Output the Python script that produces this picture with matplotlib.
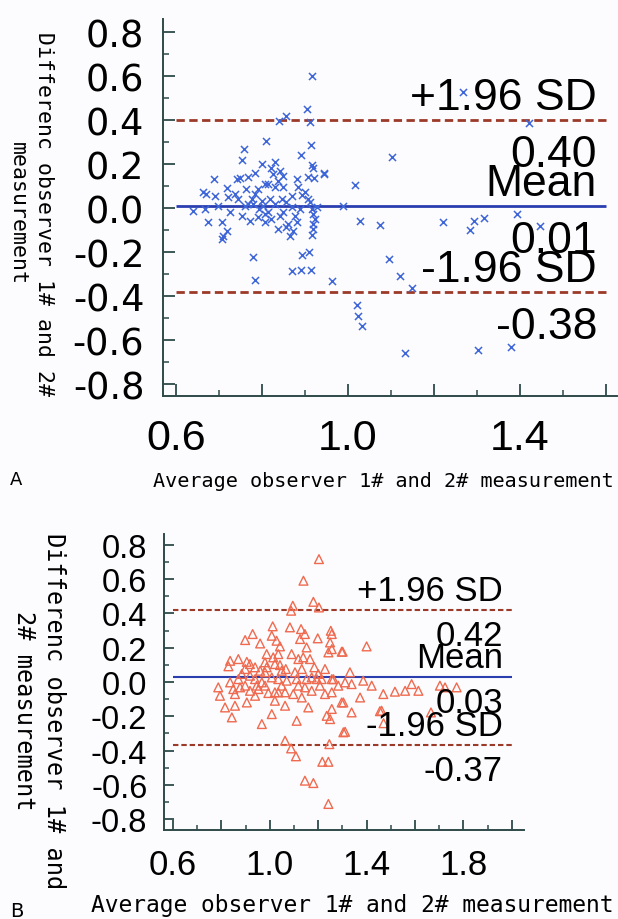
import matplotlib.pyplot as plt
from matplotlib.ticker import MultipleLocator

plt.rcParams['axes.unicode_minus'] = False

# panel A: average vs difference of observer 1# and 2#
a_avg = [0.904, 0.857, 0.840, 0.912, 0.809, 0.913, 0.758, 0.754, 0.891, 0.945,
         0.799, 0.830, 0.916, 0.919, 0.689, 0.741, 0.768, 0.784, 0.822, 0.842,
         0.881, 0.908, 0.922, 0.671, 0.691, 0.718, 0.722, 0.745, 0.764, 0.784,
         0.807, 0.830, 0.850, 0.884, 0.869, 0.892, 0.640, 0.667, 0.698, 0.674,
         0.706, 0.726, 0.753, 0.772, 0.710, 0.718, 0.780, 0.792, 0.803, 0.815,
         0.830, 0.822, 0.842, 0.850, 0.807, 0.838, 0.857, 0.865, 0.873, 0.877,
         0.857, 0.869, 0.888, 0.912, 0.916, 0.919, 0.923, 0.919, 0.919, 0.916,
         0.927, 0.780, 0.785, 0.892, 0.910, 0.871, 0.891, 0.914, 0.962, 0.749,
         0.760, 0.776, 0.799, 0.819, 0.846, 0.737, 0.881, 0.861, 0.791, 0.807,
         0.826, 0.815, 0.791, 0.850, 0.838, 0.900, 0.908, 0.768, 0.663, 0.707,
         0.916, 1.267, 1.422, 1.102, 0.944, 1.016, 0.989, 1.028, 1.074, 1.220,
         1.284, 1.294, 1.317, 1.392, 1.447, 1.096, 1.121, 1.150, 1.020, 1.024,
         1.032, 1.133, 1.303, 1.378]
a_diff = [0.45, 0.42, 0.397, 0.39, 0.305, 0.286, 0.27, 0.22, 0.24, 0.155,
          0.20, 0.21, 0.195, 0.18, 0.13, 0.13, 0.14, 0.16, 0.18, 0.17,
          0.13, 0.14, 0.135, 0.064, 0.056, 0.09, 0.049, 0.041, 0.086, 0.064,
          0.109, 0.094, 0.094, 0.094, 0.056, 0.059, -0.012, -0.005, 0.008, -0.065,
          -0.062, -0.02, -0.038, -0.058, -0.126, -0.103, 0.018, -0.005, 0.01, -0.02,
          0.018, -0.05, -0.035, -0.02, -0.065, -0.095, -0.088, -0.126, -0.103, -0.035,
          0.026, 0.003, -0.005, 0.026, -0.005, -0.027, -0.05, -0.073, -0.095, -0.123,
          0.003, -0.224, -0.326, -0.212, -0.199, -0.285, -0.28, -0.28, -0.33, 0.135,
          0.01, 0.041, 0.033, 0.041, 0.041, 0.064, -0.065, -0.073, -0.042, -0.027,
          0.155, 0.109, 0.086, 0.147, 0.124, 0.071, 0.041, 0.018, 0.073, -0.14,
          0.60, 0.526, 0.386, 0.233, 0.158, 0.105, 0.01, -0.06, -0.076, -0.065,
          -0.099, -0.06, -0.047, -0.027, -0.083, -0.232, -0.308, -0.365, -0.44, -0.49,
          -0.535, -0.66, -0.644, -0.633]
a_mean, a_upper, a_lower = 0.01, 0.40, -0.38

# panel B
b_avg = [1.203, 1.139, 1.180, 1.203, 1.095, 1.088, 1.012, 1.083, 1.129, 1.252,
         0.929, 0.898, 0.960, 1.008, 1.028, 1.042, 1.125, 1.145, 1.152, 1.198,
         1.249, 1.242, 1.297, 0.836, 0.829, 0.870, 0.905, 0.939, 0.980, 1.014,
         1.042, 1.090, 1.118, 1.138, 1.184, 1.228, 0.898, 0.787, 0.794, 0.836,
         0.856, 0.898, 0.939, 0.953, 0.980, 1.008, 0.994, 1.021, 1.035, 1.070,
         1.063, 1.097, 1.118, 1.152, 1.173, 1.207, 1.228, 1.256, 1.283, 1.297,
         0.815, 0.856, 0.905, 0.843, 0.967, 1.008, 1.063, 1.111, 1.159, 1.235,
         1.249, 1.063, 1.088, 1.108, 1.246, 1.217, 1.242, 1.145, 1.180, 1.242,
         1.304, 0.918, 0.960, 1.049, 0.884, 0.967, 1.104, 1.132, 1.200, 1.256,
         0.980, 1.035, 0.870, 0.918, 0.939, 1.049, 1.145, 1.194, 1.021, 1.166,
         1.256, 1.301, 1.400, 1.256, 1.331, 1.311, 1.338, 1.386, 1.421, 1.469,
         1.517, 1.559, 1.586, 1.614, 1.703, 1.724, 1.772, 1.304, 1.373, 1.338,
         1.462, 1.311, 1.256, 1.455, 1.666, 1.470,
         0.849, 0.877, 0.918, 0.987, 0.987, 1.035, 1.066, 1.111, 1.173, 1.214,
         1.263, 0.946, 1.132, 1.021]
b_diff = [0.717, 0.591, 0.468, 0.435, 0.445, 0.416, 0.325, 0.319, 0.309, 0.299,
          0.28, 0.245, 0.225, 0.27, 0.241, 0.208, 0.251, 0.28, 0.202, 0.255,
          0.231, 0.173, 0.177, 0.124, 0.092, 0.134, 0.118, 0.086, 0.115, 0.144,
          0.099, 0.163, 0.134, 0.144, 0.086, 0.076, 0.076, -0.031, -0.08, -0.002,
          -0.07, -0.021, 0.017, -0.041, -0.021, 0.027, -0.064, -0.109, -0.06, 0.008,
          -0.06, -0.07, -0.021, 0.017, -0.051, -0.021, -0.07, -0.06, -0.021, -0.119,
          -0.148, -0.138, -0.119, -0.206, -0.245, -0.187, -0.138, -0.226, -0.148, -0.197,
          -0.216, -0.342, -0.387, -0.433, -0.362, -0.465, -0.465, -0.575, -0.589, -0.711,
          -0.293, 0.037, 0.066, 0.066, 0.047, -0.002, 0.057, 0.076, 0.047, 0.017,
          0.057, 0.017, 0.017, -0.051, -0.08, -0.021, -0.031, 0.017, 0.105, 0.134,
          0.28, 0.177, 0.208, 0.192, 0.057, -0.002, -0.012, 0.008, -0.021, -0.07,
          -0.056, -0.051, -0.012, -0.051, -0.021, -0.031, -0.031, -0.119, -0.09, -0.177,
          -0.167, -0.29, -0.157, -0.17, -0.177, -0.24,
          -0.041, -0.031, 0.105, 0.086, 0.163, 0.163, 0.076, 0.017, 0.027, 0.017,
          0.017, -0.021, -0.09, -0.06]
b_mean, b_upper, b_lower = 0.03, 0.42, -0.37

y_ticks = [-0.8, -0.6, -0.4, -0.2, 0.0, 0.2, 0.4, 0.6, 0.8]
y_labels = ['-0.8', '-0.6', '-0.4', '-0.2', '0.0', '0.2', '0.4', '0.6', '0.8']
a_xticks = [0.6, 0.8, 1.0, 1.2, 1.4, 1.6]
a_xlabels = ['0.6', '', '1.0', '', '1.4', '']
b_xticks = [0.6, 0.8, 1.0, 1.2, 1.4, 1.6, 1.8, 2.0]
b_xlabels = ['0.6', '', '1.0', '', '1.4', '', '1.8', '']

xlabel = 'Average observer 1# and 2# measurement'
spine_col = '#2f4a4a'
dash_col = '#9c3a2a'
mean_col = '#2b3eb0'
bg = '#fcfcfe'

fig = plt.figure(figsize=(6.18, 9.2), dpi=100, facecolor=bg)


def setup_axes(ax, xticks, xlabels, xlim, ylim, tick_len, xfs, yfs, yfont, xpad, ypad):
    ax.set_facecolor(bg)
    ax.set_xlim(*xlim)
    ax.set_ylim(*ylim)
    for s in ['top', 'right']:
        ax.spines[s].set_visible(False)
    for s in ['left', 'bottom']:
        ax.spines[s].set_color(spine_col)
        ax.spines[s].set_linewidth(1.4)
    ax.set_xticks(xticks, xlabels, fontsize=xfs, family='Liberation Sans')
    ax.set_yticks(y_ticks, y_labels, fontsize=yfs, family=yfont)
    ax.xaxis.set_minor_locator(MultipleLocator(0.1))
    ax.yaxis.set_minor_locator(MultipleLocator(0.1))
    ax.tick_params(which='major', direction='in', length=tick_len, width=1.3, color=spine_col)
    ax.tick_params(which='minor', direction='in', length=tick_len * 0.55, width=1.1, color=spine_col)
    ax.tick_params(axis='x', which='major', pad=xpad)
    ax.tick_params(axis='y', which='major', pad=ypad)


def limit_lines(ax, x0, x1, mean, upper, lower, lw, dash, fs, up, down):
    ax.hlines([upper, lower], x0, x1, colors=dash_col, linestyles=(0, dash), lw=lw)
    ax.hlines(mean, x0, x1, colors=mean_col, lw=lw)
    for val, name in [(upper, '+1.96 SD'), (mean, 'Mean'), (lower, '-1.96 SD')]:
        num = '%.2f' % val
        ax.annotate(name, (x1, val), xytext=(-9, up), textcoords='offset pixels',
                    ha='right', va='baseline', fontsize=fs, family='Liberation Sans')
        ax.annotate(num, (x1, val), xytext=(-9, -down), textcoords='offset pixels',
                    ha='right', va='baseline', fontsize=fs, family='Liberation Sans')


# ---- panel A
ax1 = fig.add_axes([0.2638, 0.5685, 0.7346, 0.4098])
setup_axes(ax1, a_xticks, a_xlabels, (0.570, 1.6256), (-0.8545, 0.859), 8.5,
           31, 26.5, 'DejaVu Sans', 16, 13.5)
ax1.scatter(a_avg, a_diff, marker='x', s=26, linewidths=1.1, color='#3f66d6', zorder=3)
limit_lines(ax1, 0.6, 1.6, a_mean, a_upper, a_lower, 2.0, (3.0, 1.6), 32, 11, 46)

fig.text(383 / 618, 1 - 487 / 920, xlabel, ha='center', va='baseline',
         fontsize=14.5, family='DejaVu Sans Mono')
fig.text(31 / 618, 1 - 214 / 920, 'Differenc observer 1# and 2#\nmeasurement',
         rotation=270, ha='center', va='center', multialignment='center',
         linespacing=1.4, fontsize=15.5, family='DejaVu Sans Mono')
fig.text(10 / 618, 1 - 485 / 920, 'A', fontsize=13, family='DejaVu Sans')

# ---- panel B
ax2 = fig.add_axes([0.2654, 0.0967, 0.5825, 0.3217])
setup_axes(ax2, b_xticks, b_xlabels, (0.5628, 2.0504), (-0.863, 0.863), 7,
           25, 23.5, 'Liberation Sans', 13, 12)
ax2.scatter(b_avg, b_diff, marker='^', s=40, linewidths=1.0, facecolors='none',
            edgecolors='#ef6a4f', zorder=3)
limit_lines(ax2, 0.6, 2.0, b_mean, b_upper, b_lower, 1.5, (2.6, 1.4), 25, 10, 35)

fig.text(352 / 618, 1 - 912 / 920, xlabel, ha='center', va='baseline',
         fontsize=16.5, family='DejaVu Sans Mono')
fig.text(39 / 618, 1 - 711 / 920, 'Differenc observer 1# and\n2# measurement',
         rotation=270, ha='center', va='center', multialignment='center',
         linespacing=1.35, fontsize=17, family='DejaVu Sans Mono')
fig.text(10 / 618, 1 - 917 / 920, 'B', fontsize=14, family='DejaVu Sans')

fig.savefig('out.png', dpi=100, facecolor=bg)
